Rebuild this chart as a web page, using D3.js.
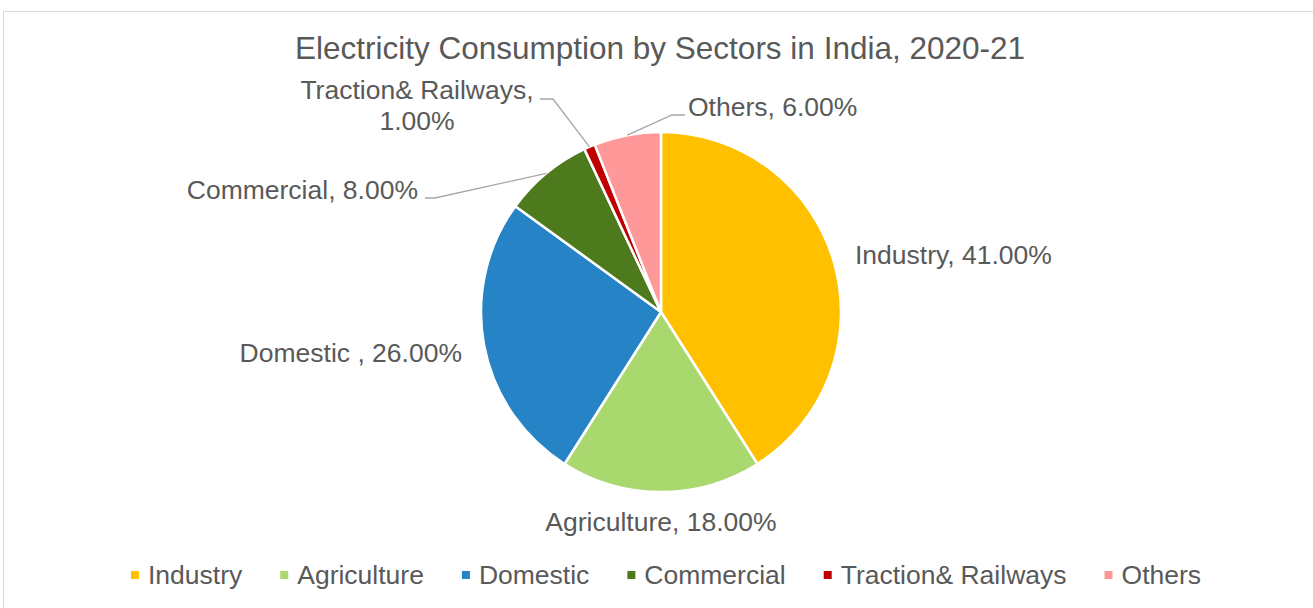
<!DOCTYPE html>
<html>
<head>
<meta charset="utf-8">
<script src="https://cdn.jsdelivr.net/npm/d3@7"></script>
<style>
  html, body { margin: 0; padding: 0; background: #fff; }
  svg { display: block; }
  text { font-family: "Liberation Sans", Arial, sans-serif; fill: #595959; }
</style>
</head>
<body>
<svg id="chart" width="1313" height="608"></svg>
<script>
// Sector shares of electricity consumption (percent)
const categories = ["Industry", "Agriculture", "Domestic ", "Commercial", "Traction& Railways", "Others"];
const values = [41, 18, 26, 8, 1, 6];
const colors = ["#FFC000", "#A9D86E", "#2683C6", "#4E7A1E", "#C00000", "#FF9999"];
const title = "Electricity Consumption by Sectors in India, 2020-21";

const data = categories.map((c, i) => ({ name: c, value: values[i], color: colors[i] }));

const W = 1313, H = 608;
const cx = 661, cy = 312, R = 180;

const svg = d3.select("#chart");

// chart frame
svg.append("rect")
  .attr("x", 3.5).attr("y", 11.5)
  .attr("width", W + 20).attr("height", H + 20)
  .attr("fill", "#fff").attr("stroke", "#d9d9d9").attr("stroke-width", 1);

svg.append("text")
  .attr("x", 660).attr("y", 59)
  .attr("text-anchor", "middle")
  .style("font-size", "31.5px")
  .text(title);

const pie = d3.pie().value(d => d.value).sort(null);
const arcs = pie(data);
const arc = d3.arc().innerRadius(0).outerRadius(R);

const g = svg.append("g").attr("transform", `translate(${cx},${cy})`);
g.selectAll("path")
  .data(arcs)
  .join("path")
  .attr("d", arc)
  .attr("fill", d => d.data.color)
  .attr("stroke", "#fff")
  .attr("stroke-width", 2.5)
  .attr("stroke-linejoin", "round");

// data labels: placement per slice
const fmt = d => `${d.data.name}, ${d.data.value.toFixed(2)}%`;
const labelLayout = [
  { x: 855, y: 264, anchor: "start" },
  { x: 661, y: 531, anchor: "middle" },
  { x: 462, y: 362, anchor: "end" },
  { x: 418, y: 199, anchor: "end", elbow: [435, 198], end: [425, 198] },
  { x: 417, y: 99, anchor: "middle", wrap: true, elbow: [553, 99], end: [540, 99] },
  { x: 688, y: 116, anchor: "start", elbow: [672, 115], end: [685, 115] }
];

// leader lines from slice edge midpoint
arcs.forEach((a, i) => {
  const L = labelLayout[i];
  if (!L.elbow) return;
  const mid = (a.startAngle + a.endAngle) / 2;
  const px = cx + R * Math.sin(mid), py = cy - R * Math.cos(mid);
  svg.append("polyline")
    .attr("points", [[px, py], L.elbow, L.end].map(p => p.join(",")).join(" "))
    .attr("fill", "none")
    .attr("stroke", "#a6a6a6")
    .attr("stroke-width", 1.3);
});

arcs.forEach((a, i) => {
  const L = labelLayout[i];
  const t = svg.append("text")
    .attr("x", L.x).attr("y", L.y)
    .attr("text-anchor", L.anchor)
    .style("font-size", "26.5px");
  if (L.wrap) {
    t.append("tspan").attr("x", L.x).text(`${a.data.name},`);
    t.append("tspan").attr("x", L.x).attr("dy", 31).text(`${a.data.value.toFixed(2)}%`);
  } else {
    t.text(fmt(a));
  }
});

// legend
const legend = svg.append("g");
const legendY = 575;
let xCursor = 0;
data.forEach(d => {
  const item = legend.append("g").attr("transform", `translate(${xCursor},0)`);
  item.append("rect")
    .attr("x", 0).attr("y", legendY - 4)
    .attr("width", 8).attr("height", 8)
    .attr("fill", d.color);
  const txt = item.append("text")
    .attr("x", 17).attr("y", legendY + 9)
    .style("font-size", "26.5px")
    .text(d.name.trim());
  const w = txt.node().getComputedTextLength();
  xCursor += 17 + w + 38;
});
const totalW = xCursor - 38;
legend.attr("transform", `translate(${666 - totalW / 2},0)`);
</script>
</body>
</html>
